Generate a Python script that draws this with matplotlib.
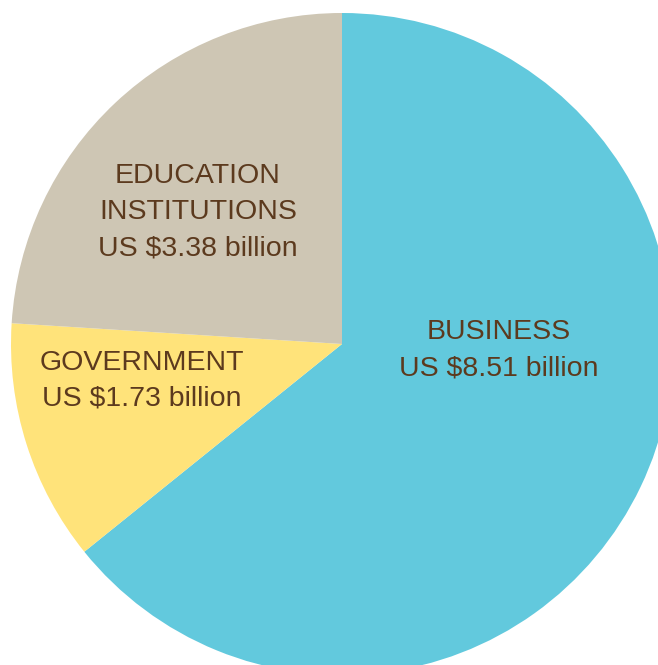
import matplotlib.pyplot as plt

# Spending by sector (US $ billion), as printed on the chart
labels = ["BUSINESS", "GOVERNMENT", "EDUCATION\nINSTITUTIONS"]
amounts = [8.51, 1.73, 3.38]
# slice sizes as drawn in the original (percent of circle)
shares = [64.2, 11.8, 24.0]
colors = ["#62C9DD", "#FFE37A", "#CEC6B4"]

text_color = "#5C3A1E"

fig = plt.figure(figsize=(6.58, 6.65), dpi=100)
ax = fig.add_axes([0, 0, 1, 1])

# pie centre/radius in pixel coordinates of the figure
cx, cy, r = 342, 665 - 344, 331

wedges, _ = ax.pie(shares, colors=colors, startangle=90, counterclock=False,
                   center=(cx, cy), radius=r,
                   wedgeprops=dict(linewidth=0))

label_pos = [(499, 665 - 350), (142, 665 - 381), (198, 665 - 212)]
for lab, val, (x, y) in zip(labels, amounts, label_pos):
    ax.text(x, y, f"{lab}\nUS ${val:.2f} billion", ha="center", va="center",
            fontsize=20.5, color=text_color, family="Liberation Sans",
            linespacing=1.5)

ax.set_xlim(0, 658)
ax.set_ylim(0, 665)
ax.set_aspect("equal")
ax.axis("off")

plt.savefig("out.png", dpi=100)
